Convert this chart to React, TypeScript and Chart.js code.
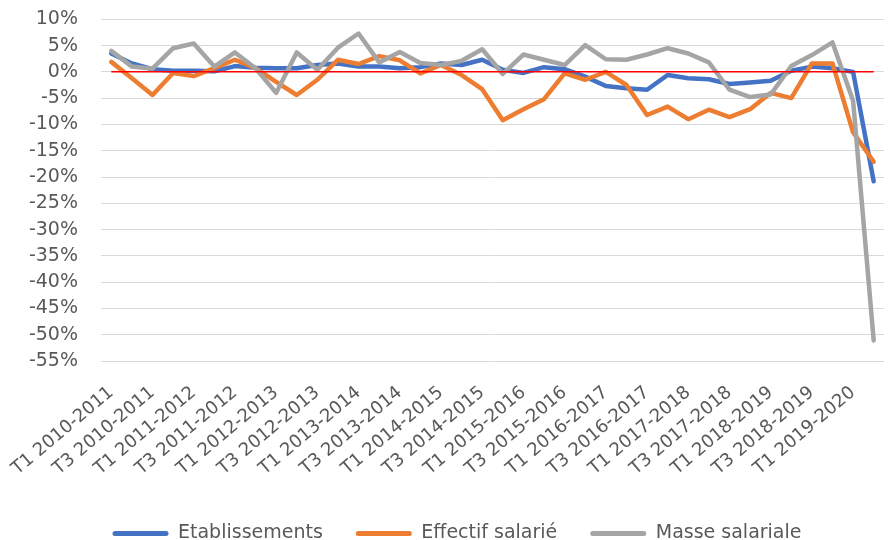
import React, { useEffect, useRef } from "react";
import { Chart, registerables } from "chart.js";

Chart.register(...registerables);

const categories = [
  "T1 2010-2011", "T2 2010-2011", "T3 2010-2011", "T4 2010-2011",
  "T1 2011-2012", "T2 2011-2012", "T3 2011-2012", "T4 2011-2012",
  "T1 2012-2013", "T2 2012-2013", "T3 2012-2013", "T4 2012-2013",
  "T1 2013-2014", "T2 2013-2014", "T3 2013-2014", "T4 2013-2014",
  "T1 2014-2015", "T2 2014-2015", "T3 2014-2015", "T4 2014-2015",
  "T1 2015-2016", "T2 2015-2016", "T3 2015-2016", "T4 2015-2016",
  "T1 2016-2017", "T2 2016-2017", "T3 2016-2017", "T4 2016-2017",
  "T1 2017-2018", "T2 2017-2018", "T3 2017-2018", "T4 2017-2018",
  "T1 2018-2019", "T2 2018-2019", "T3 2018-2019", "T4 2018-2019",
  "T1 2019-2020", "T2 2019-2020",
];

const etablissements = [
  3.5, 1.6, 0.5, 0.2, 0.2, 0.1, 1.1, 0.8, 0.7, 0.7,
  1.3, 1.6, 1.0, 1.0, 0.7, 0.9, 1.6, 1.3, 2.3, 0.4,
  -0.2, 0.9, 0.5, -0.9, -2.7, -3.1, -3.4, -0.6, -1.2, -1.4,
  -2.3, -2.0, -1.7, 0.2, 1.0, 0.7, 0.0, -20.8,
];

const effectifSalarie = [
  1.9, -1.2, -4.4, -0.2, -0.8, 0.7, 2.3, 0.7, -1.9, -4.4,
  -1.5, 2.3, 1.5, 3.0, 2.2, -0.3, 1.3, -0.6, -3.3, -9.2,
  -7.1, -5.2, -0.3, -1.5, 0.0, -2.5, -8.2, -6.6, -9.0, -7.2,
  -8.6, -7.1, -4.0, -5.0, 1.6, 1.6, -11.5, -17.1,
];

const masseSalariale = [
  4.0, 1.0, 0.6, 4.5, 5.4, 1.0, 3.7, 0.7, -4.0, 3.7,
  0.4, 4.6, 7.3, 1.8, 3.8, 1.7, 1.3, 2.1, 4.3, -0.4,
  3.3, 2.3, 1.3, 5.1, 2.4, 2.3, 3.3, 4.5, 3.5, 1.8,
  -3.4, -4.8, -4.3, 1.1, 3.2, 5.6, -5.5, -51.1,
];

const zeroLine = [
  0, 0, 0, 0, 0, 0, 0, 0, 0, 0,
  0, 0, 0, 0, 0, 0, 0, 0, 0, 0,
  0, 0, 0, 0, 0, 0, 0, 0, 0, 0,
  0, 0, 0, 0, 0, 0, 0, 0,
];

const yMin = -55;
const yMax = 10;
const yStep = 5;

const FONT = "'DejaVu Sans', sans-serif";
const TEXT = "#595959";
const W = 891;
const H = 540;
const PLOT_BOTTOM = 361;
const LEGEND_SHIFT = -13;
const LEGEND_X_SHIFT = 15;

const legendShift = {
  id: "legendShift",
  afterLayout(chart: any) {
    if (chart.legend) {
      chart.legend.left += LEGEND_X_SHIFT;
      chart.legend.right += LEGEND_X_SHIFT;
    }
  },
};

export default function App() {
  const ref = useRef<HTMLCanvasElement | null>(null);

  useEffect(() => {
    if (!ref.current) return;
    const lineDs = (label: string, data: number[], color: string, order: number) => ({
      label,
      data,
      borderColor: color,
      backgroundColor: color,
      borderWidth: 4.5,
      pointRadius: 0,
      tension: 0,
      borderJoinStyle: "round" as const,
      borderCapStyle: "round" as const,
      order,
    });
    const chart = new Chart(ref.current, {
      type: "line",
      plugins: [legendShift],
      data: {
        labels: categories,
        datasets: [
          lineDs("Etablissements", etablissements, "#4472C4", 3),
          lineDs("Effectif salarié", effectifSalarie, "#ED7D31", 2),
          lineDs("Masse salariale", masseSalariale, "#A5A5A5", 1),
          {
            label: "",
            data: zeroLine,
            borderColor: "#FF0000",
            backgroundColor: "#FF0000",
            borderWidth: 1.5,
            pointRadius: 0,
            tension: 0,
            order: 0,
          },
        ],
      },
      options: {
        animation: false,
        responsive: false,
        maintainAspectRatio: false,
        layout: { padding: { top: 19.3, right: 7, bottom: LEGEND_SHIFT, left: 0 } },
        plugins: {
          tooltip: { enabled: false },
          legend: {
            position: "bottom",
            labels: {
              boxWidth: 56,
              boxHeight: 5,
              padding: 33,
              useBorderRadius: true,
              color: TEXT,
              font: { family: FONT, size: 19 },
              generateLabels: (c: any) =>
                c.data.datasets
                  .map((ds: any, i: number) => ({
                    text: ds.label,
                    fillStyle: ds.borderColor,
                    strokeStyle: ds.borderColor,
                    lineWidth: 0,
                    hidden: false,
                    datasetIndex: i,
                    borderRadius: 2.5,
                    fontColor: TEXT,
                  }))
                  .filter((it: any) => it.text),
            },
          },
        },
        scales: {
          x: {
            type: "category",
            offset: true,
            grid: { display: false, drawTicks: false },
            border: { display: false },
            ticks: {
              autoSkip: false,
              minRotation: 40,
              maxRotation: 40,
              padding: 21,
              labelOffset: 0,
              color: TEXT,
              font: { family: FONT, size: 18 },
              callback: (_v: any, i: number) => (i % 2 === 0 ? categories[i] : ""),
            },
            afterFit: (s: any) => {
              const lh = s.chart.legend ? s.chart.legend.height : 55;
              s.height = H - LEGEND_SHIFT - lh - PLOT_BOTTOM;
              s.paddingLeft = 0;
              s.paddingRight = 0;
            },
          },
          y: {
            min: yMin,
            max: yMax,
            grid: { color: "#D9D9D9", lineWidth: 1, drawTicks: false },
            border: { display: false },
            ticks: {
              autoSkip: false,
              stepSize: yStep,
              padding: 23,
              color: TEXT,
              font: { family: FONT, size: 19 },
              callback: (v: any) => `${v}%`,
            },
            afterFit: (s: any) => {
              s.width = 101;
              s.paddingTop = 0;
              s.paddingBottom = 0;
            },
          },
        },
      },
    });
    return () => chart.destroy();
  }, []);

  return (
    <div style={{ position: "absolute", left: 0, top: 0, width: W, height: H, background: "#fff" }}>
      <canvas ref={ref} width={W} height={H} style={{ width: W, height: H }} />
    </div>
  );
}
